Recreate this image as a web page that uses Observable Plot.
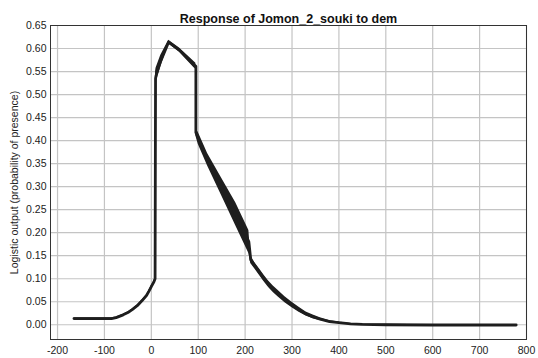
<!DOCTYPE html>
<html>
<head>
<meta charset="utf-8">
<script src="https://cdn.jsdelivr.net/npm/d3@7"></script>
<script src="https://cdn.jsdelivr.net/npm/@observablehq/plot@0.6"></script>
<style>
  html, body { margin: 0; padding: 0; background: #fff; }
  svg { display: block; }
</style>
</head>
<body>
<div id="chart"></div>
<script>
const titleText = "Response of Jomon_2_souki to dem";
const yLabel = "Logistic output (probability of presence)";
const demValues = [-165, -85, -75, -60, -50, -40, -30, -20, -10, -5, 0, 5, 8, 9, 10, 20, 37, 60, 91, 95, 95, 100, 120, 150, 180, 208, 212, 220, 230, 240, 250, 260, 270, 285, 300, 315, 330, 345, 360, 380, 400, 425, 450, 500, 600, 700, 778];
const lowerValues = [0.012, 0.012, 0.014, 0.020, 0.025, 0.032, 0.040, 0.050, 0.062, 0.071, 0.081, 0.090, 0.098, 0.52, 0.525, 0.56, 0.610, 0.592, 0.558, 0.555, 0.41, 0.392, 0.345, 0.280, 0.215, 0.155, 0.133, 0.122, 0.108, 0.094, 0.081, 0.070, 0.061, 0.048, 0.037, 0.027, 0.019, 0.013, 0.009, 0.005, 0.003, 0.001, 0.0003, -0.001, -0.001, -0.001, -0.001];
const upperValues = [0.015, 0.015, 0.017, 0.023, 0.028, 0.035, 0.043, 0.054, 0.066, 0.075, 0.085, 0.094, 0.102, 0.55, 0.557, 0.585, 0.618, 0.601, 0.572, 0.568, 0.425, 0.418, 0.372, 0.318, 0.265, 0.205, 0.150, 0.136, 0.122, 0.108, 0.095, 0.084, 0.075, 0.061, 0.049, 0.038, 0.028, 0.021, 0.015, 0.009, 0.006, 0.003, 0.0015, 0.001, 0.0, 0.0, 0.0];
const xTicks = [-200, -100, 0, 100, 200, 300, 400, 500, 600, 700, 800];
const yTicks = [0, 0.05, 0.10, 0.15, 0.20, 0.25, 0.30, 0.35, 0.40, 0.45, 0.50, 0.55, 0.60, 0.65];

const data = demValues.map((x, i) => ({x, lo: lowerValues[i], hi: upperValues[i], mid: (lowerValues[i] + upperValues[i]) / 2}));

const chart = Plot.plot({
  width: 538,
  height: 358,
  marginLeft: 50,
  marginRight: 12,
  marginTop: 25,
  marginBottom: 19,
  style: {fontFamily: "'Liberation Sans', Arial, sans-serif", fontSize: "10.5px", color: "#222", background: "#fff"},
  x: {domain: [-215, 800]},
  y: {domain: [-0.032, 0.65]},
  marks: [
    Plot.gridX(xTicks, {stroke: "#c4c4c4", strokeOpacity: 1, strokeWidth: 1.2}),
    Plot.gridY(yTicks, {stroke: "#c4c4c4", strokeOpacity: 1, strokeWidth: 1.2}),
    Plot.axisX({ticks: xTicks, tickSize: 0, tickPadding: 7, label: null, tickFormat: d => String(d)}),
    Plot.axisY({ticks: yTicks, tickSize: 0, tickPadding: 4, tickFormat: d3.format(".2f"), label: yLabel, labelAnchor: "center", labelArrow: "none", labelOffset: 40, fontSize: 10.5}),
    Plot.areaY(data, {x: "x", y1: "lo", y2: "hi", fill: "#1e1e1e"}),
    Plot.line(data, {x: "x", y: "mid", stroke: "#1e1e1e", strokeWidth: 2.8, strokeLinejoin: "round"}),
    Plot.frame({stroke: "#333", strokeWidth: 1}),
    Plot.text([titleText], {frameAnchor: "top", dy: -11, fontWeight: "bold", fontSize: 12.5, fill: "#111"})
  ]
});
document.getElementById("chart").appendChild(chart);
</script>
</body>
</html>
